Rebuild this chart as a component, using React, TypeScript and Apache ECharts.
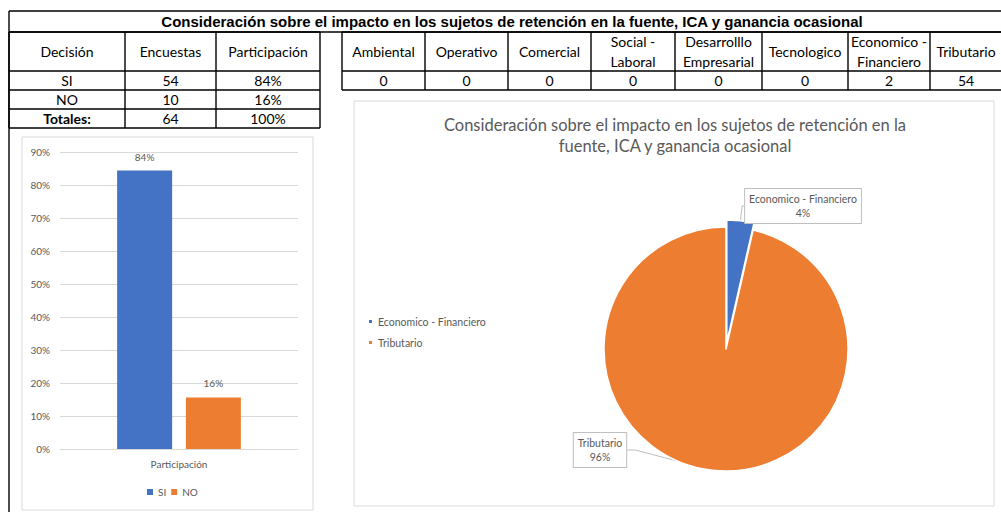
import React, { useEffect, useRef } from 'react';
import * as echarts from 'echarts';

// ---------- data ----------
const tituloGeneral =
  'Consideración sobre el impacto en los sujetos de retención en la fuente, ICA y ganancia ocasional';
const encabezadosDecision = ['Decisión', 'Encuestas', 'Participación'];
const decisiones = ['SI', 'NO', 'Totales:'];
const encuestas = [54, 10, 64];
const participacionTexto = ['84%', '16%', '100%'];

const categoriasImpacto = [
  'Ambiental',
  'Operativo',
  'Comercial',
  'Social -\nLaboral',
  'Desarrolllo\nEmpresarial',
  'Tecnologico',
  'Economico -\nFinanciero',
  'Tributario',
];
const valoresImpacto = [0, 0, 0, 0, 0, 0, 2, 54];

const barCategorias = ['Participación'];
const barSeries = ['SI', 'NO'];
const participacionPct = [84.375, 15.625];
const yTicksMax = 90;
const yTicksInterval = 10;

const pieTitulo =
  'Consideración sobre el impacto en los sujetos de retención en la\nfuente, ICA y ganancia ocasional';
const pieNombres = ['Economico - Financiero', 'Tributario'];
const pieValores = [2, 54];

// ---------- styling ----------
const FONT = 'Lato, "Open Sans", sans-serif';
const GREY = '#595959';
const BLUE = '#4472C4';
const ORANGE = '#ED7D31';

function buildGraphic() {
  const g: any[] = [];
  const line = (x1: number, y1: number, x2: number, y2: number, w = 1.4) =>
    g.push({
      type: 'line',
      silent: true,
      z: 20,
      shape: { x1, y1, x2, y2 },
      style: { stroke: '#000', lineWidth: w },
    });
  const txt = (x: number, y: number, text: string, o: any = {}) =>
    g.push({
      type: 'text',
      silent: true,
      z: 21,
      x,
      y,
      style: {
        text,
        fill: o.fill || '#000',
        fontFamily: o.fontFamily || FONT,
        fontSize: o.fontSize || 14,
        fontWeight: o.fontWeight || 'normal',
        lineHeight: o.lineHeight || 20,
        align: 'center',
        verticalAlign: 'middle',
      },
    });

  // chart boxes
  g.push({
    type: 'rect',
    silent: true,
    z: 0,
    shape: { x: 22, y: 137, width: 291, height: 373 },
    style: { fill: '#fff', stroke: '#d9d9d9', lineWidth: 1 },
  });
  g.push({
    type: 'rect',
    silent: true,
    z: 0,
    shape: { x: 354, y: 101, width: 640, height: 405 },
    style: { fill: '#fff', stroke: '#d9d9d9', lineWidth: 1 },
  });

  // title row
  line(9, 11, 1001, 11);
  line(9, 32, 1001, 32);
  line(9, 11, 9, 512);
  txt(512, 21.5, tituloGeneral, {
    fontFamily: '"Liberation Sans", Arial, sans-serif',
    fontWeight: 'bold',
    fontSize: 15,
  });

  // left table
  const lx = [9, 125, 216, 320];
  const ly = [32, 71, 90, 109, 128];
  lx.forEach((x) => line(x, 32, x, 128));
  ly.forEach((y) => line(9, y, 320, y));
  encabezadosDecision.forEach((h, i) => txt((lx[i] + lx[i + 1]) / 2, 51.5, h));
  decisiones.forEach((d, r) => {
    const cy = (ly[r + 1] + ly[r + 2]) / 2;
    txt((lx[0] + lx[1]) / 2, cy, d, { fontWeight: d === 'Totales:' ? 'bold' : 'normal' });
    txt((lx[1] + lx[2]) / 2, cy, String(encuestas[r]));
    txt((lx[2] + lx[3]) / 2, cy, participacionTexto[r]);
  });

  // right table
  const rx = [342, 425, 508, 591, 675, 762, 848, 930, 1012];
  const ry = [32, 71, 90];
  rx.forEach((x) => line(x, 32, x, 90));
  ry.forEach((y) => line(342, y, 1001, y));
  categoriasImpacto.forEach((c, i) => {
    const cx = (rx[i] + rx[i + 1]) / 2;
    txt(Math.min(cx, 966), 51.5, c);
    txt(Math.min(cx, 966), 80.5, String(valoresImpacto[i]));
  });

  // pie chart title
  txt(675, 135, pieTitulo, { fill: GREY, fontSize: 16.5, lineHeight: 21 });
  return g;
}

export default function App() {
  const ref = useRef<HTMLDivElement>(null);

  useEffect(() => {
    document.body.style.margin = '0';
    if (!ref.current) return;
    const chart = echarts.init(ref.current, undefined, { renderer: 'svg' });

    const tok = { color: GREY, fontSize: 10.5, lineHeight: 14, fontFamily: FONT, align: 'center' };
    const pieLabel = {
      show: true,
      formatter: (p: any) => `{c|${p.name}}\n{c|${Math.round(p.percent)}%}`,
      rich: { c: tok },
      color: GREY,
      fontSize: 10.5,
      lineHeight: 14,
      fontFamily: FONT,
      backgroundColor: '#fff',
      borderColor: '#bfbfbf',
      borderWidth: 1,
      padding: [3, 4],
    };

    const option: any = {
      animation: false,
      backgroundColor: '#fff',
      textStyle: { fontFamily: FONT },
      color: [BLUE, ORANGE],
      graphic: buildGraphic(),
      legend: [
        {
          data: barSeries,
          left: 147,
          top: 487,
          padding: 0,
          icon: 'rect',
          itemWidth: 6,
          itemHeight: 6,
          itemGap: 5,
          textStyle: { color: GREY, fontSize: 10, fontFamily: FONT },
        },
        {
          data: pieNombres,
          orient: 'vertical',
          left: 367,
          top: 316,
          padding: 0,
          icon: 'rect',
          itemWidth: 5,
          itemHeight: 5,
          itemGap: 10,
          textStyle: { color: GREY, fontSize: 10.5, fontFamily: FONT },
        },
      ],
      grid: { left: 60, top: 152, width: 238, height: 297 },
      xAxis: {
        type: 'category',
        data: barCategorias,
        axisTick: { show: false },
        axisLine: { lineStyle: { color: '#d9d9d9' } },
        axisLabel: { color: GREY, fontSize: 10, margin: 10, fontFamily: FONT },
      },
      yAxis: {
        type: 'value',
        min: 0,
        max: yTicksMax,
        interval: yTicksInterval,
        axisLabel: { color: GREY, fontSize: 10, margin: 10, formatter: '{value}%', fontFamily: FONT },
        axisLine: { show: false },
        axisTick: { show: false },
        splitLine: { lineStyle: { color: '#d9d9d9' } },
      },
      series: [
        ...barSeries.map((name, i) => ({
          type: 'bar',
          name,
          data: [participacionPct[i]],
          barWidth: 55,
          barGap: '25%',
          itemStyle: { color: i === 0 ? BLUE : ORANGE },
          label: {
            show: true,
            position: 'top',
            distance: 9,
            color: GREY,
            fontSize: 10,
            fontFamily: FONT,
            formatter: (p: any) => `${Math.round(p.value)}%`,
          },
        })),
        {
          type: 'pie',
          name: 'Impacto',
          center: [726, 349],
          radius: 122,
          startAngle: 90,
          clockwise: true,
          selectedMode: 'single',
          selectedOffset: 7,
          data: pieNombres.map((n, i) =>
            i === 0
              ? {
                  name: n,
                  value: pieValores[i],
                  selected: true,
                  label: { distanceToLabelLine: 1 },
                  labelLine: { length: 15, length2: 2 },
                }
              : { name: n, value: pieValores[i] }
          ),
          itemStyle: { borderColor: '#fff', borderWidth: 1.5 },
          select: {
            itemStyle: { color: BLUE, borderColor: '#fff', borderWidth: 1.5 },
          },
          emphasis: { disabled: true },
          label: pieLabel,
          labelLine: { show: true, length: 8, length2: 8, lineStyle: { color: '#bfbfbf', width: 1 } },
          labelLayout: (params: any) =>
            params.dataIndex === 1
              ? { x: 600, y: 450, align: 'center', verticalAlign: 'middle' }
              : {},
        },
      ],
    };
    chart.setOption(option);
    return () => chart.dispose();
  }, []);

  return <div ref={ref} style={{ width: 1001, height: 512 }} />;
}
